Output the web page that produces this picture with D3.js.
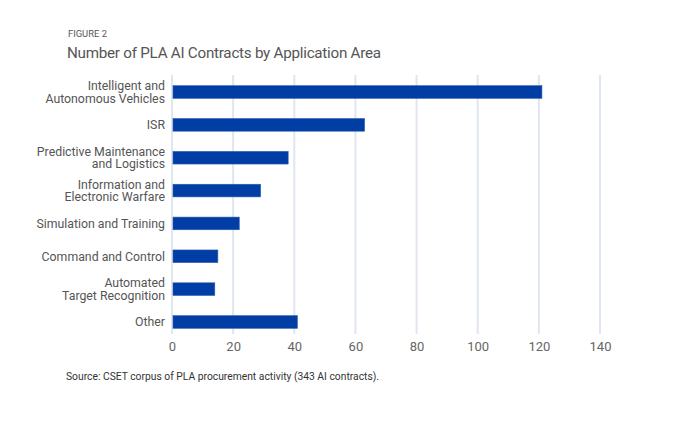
<!DOCTYPE html>
<html><head><meta charset="utf-8">
<script src="https://cdn.jsdelivr.net/npm/d3@7"></script>
<style>body{margin:0;background:#fff}svg{display:block;font-family:Roboto,sans-serif}</style>
</head><body>
<svg id="c" width="680" height="422"></svg>
<script>
const categories = [
  ["Intelligent and","Autonomous Vehicles"],
  ["ISR"],
  ["Predictive Maintenance","and Logistics"],
  ["Information and","Electronic Warfare"],
  ["Simulation and Training"],
  ["Command and Control"],
  ["Automated","Target Recognition"],
  ["Other"]
];
const values = [121, 63, 38, 29, 22, 15, 14, 41];
const ticks = [0, 20, 40, 60, 80, 100, 120, 140];
const figureLabel = "FIGURE 2";
const title = "Number of PLA AI Contracts by Application Area";
const source = "Source: CSET corpus of PLA procurement activity (343 AI contracts).";

const svg = d3.select("#c");
const x = d3.scaleLinear().domain([0, 140]).range([172, 600]);
const y = d3.scaleBand().domain(d3.range(categories.length)).range([75.5, 338.5]).paddingInner(0.615).paddingOuter(0.31);

svg.append("text").attr("x", 68).attr("y", 37).attr("font-size", 9.4).attr("fill", "#555").text(figureLabel);
svg.append("text").attr("x", 67).attr("y", 58).attr("font-size", 15.2).attr("letter-spacing", -0.25).attr("fill", "#555").text(title);

const grid = svg.append("g");
grid.selectAll("line").data(ticks).join("line")
  .attr("x1", d => x(d)).attr("x2", d => x(d))
  .attr("y1", 75).attr("y2", 334)
  .attr("stroke", "#e0e6ef").attr("stroke-width", 2);

const axis = svg.append("g").attr("transform", "translate(0,338)")
  .call(d3.axisBottom(x).tickValues(ticks).tickSize(0).tickPadding(4));
axis.select(".domain").remove();
axis.selectAll("text").attr("font-size", 13).attr("fill", "#666").attr("font-family", "Roboto,sans-serif");

svg.append("g").selectAll("rect").data(values).join("rect")
  .attr("x", x(0) + 1).attr("y", (d, i) => y(i))
  .attr("width", d => x(d) - x(0) - 1).attr("height", y.bandwidth())
  .attr("fill", "#003da5").attr("stroke", "#2e5db0").attr("stroke-width", 0.6);

const labels = svg.append("g").selectAll("text").data(categories).join("text")
  .attr("text-anchor", "end").attr("font-size", 12.3).attr("fill", "#555");
labels.each(function(lines, i) {
  const cy = y(i) + y.bandwidth() / 2;
  const lh = 12.6;
  const start = cy - (lines.length - 1) * lh / 2 + 4.3;
  d3.select(this).selectAll("tspan").data(lines).join("tspan")
    .attr("x", 165).attr("y", (d, j) => start + j * lh).text(d => d);
});

svg.append("text").attr("x", 66).attr("y", 380).attr("font-size", 10.3).attr("fill", "#333").text(source);
</script>
</body></html>
